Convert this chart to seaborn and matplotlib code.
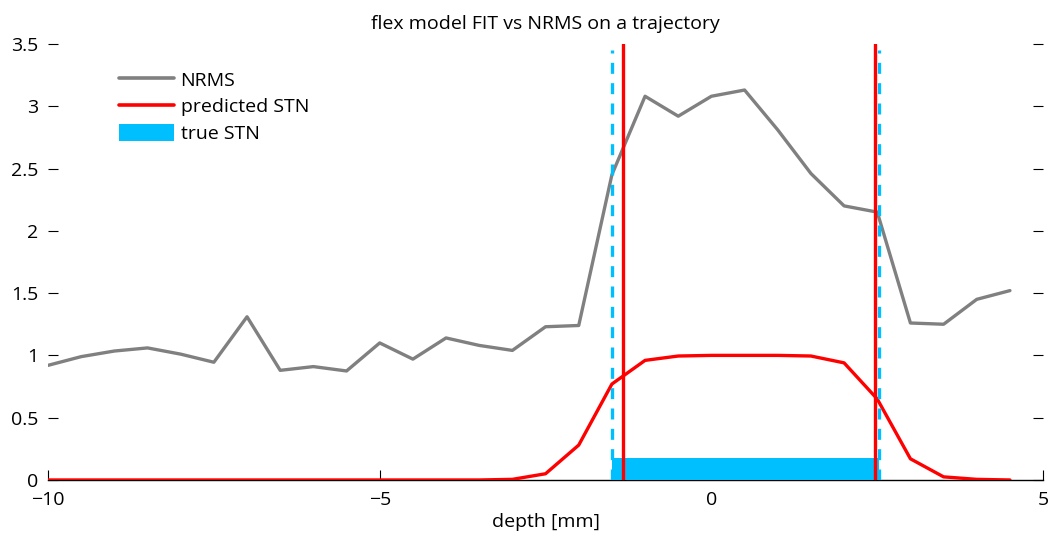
import numpy as np
import pandas as pd
import matplotlib
matplotlib.use("Agg")
import matplotlib.pyplot as plt
import seaborn as sns
from matplotlib.patches import Patch
from matplotlib.lines import Line2D

depth = [-10, -9.5, -9, -8.5, -8, -7.5, -7, -6.5, -6, -5.5, -5, -4.5, -4, -3.5,
         -3, -2.5, -2, -1.5, -1, -0.5, 0, 0.5, 1, 1.5, 2, 2.5, 3, 3.5, 4, 4.5]
nrms = [0.92, 0.99, 1.035, 1.06, 1.01, 0.945, 1.31, 0.88, 0.91, 0.875, 1.10, 0.97,
        1.14, 1.08, 1.04, 1.23, 1.24, 2.45, 3.08, 2.92, 3.08, 3.13, 2.81, 2.46,
        2.20, 2.15, 1.26, 1.25, 1.45, 1.52]
predicted = [0, 0, 0, 0, 0, 0, 0, 0, 0, 0, 0, 0, 0, 0,
             0.005, 0.05, 0.28, 0.77, 0.96, 0.995, 1.0, 1.0, 1.0, 0.995,
             0.94, 0.65, 0.17, 0.025, 0.005, 0.0]
pred_bounds = [-1.34, 2.47]
true_bounds = [-1.5, 2.52]
true_bar_height = 0.18

title = "flex model FIT vs NRMS on a trajectory"
xlabel = "depth [mm]"
legend_labels = ["NRMS", "predicted STN", "true STN"]
yticks = [0, 0.5, 1, 1.5, 2, 2.5, 3, 3.5]
xticks = [-10, -5, 0, 5]

sns.set_style("white")
plt.rcParams['font.family'] = ['Open Sans', 'DejaVu Sans']
plt.rcParams['font.size'] = 14
for k in ["text.color", "axes.labelcolor", "xtick.color", "ytick.color"]:
    plt.rcParams[k] = "black"

df = pd.DataFrame({"depth": depth, "nrms": nrms, "pred": predicted})

fig = plt.figure(figsize=(10.53, 5.41), dpi=100)
ax = fig.add_axes([0.0456, 0.1128, 0.945, 0.806])

GRAY = "#808080"
RED = "#ff0000"
CYAN = "#00bfff"

sns.lineplot(data=df, x="depth", y="nrms", ax=ax, color=GRAY, lw=2.4, zorder=3)
sns.lineplot(data=df, x="depth", y="pred", ax=ax, color=RED, lw=2.4, zorder=4)

ax.fill_between(true_bounds, 0, true_bar_height, color=CYAN, lw=0, zorder=2)
for xb in true_bounds:
    ax.axvline(xb, color=CYAN, lw=2.4, ls=(0, (3.3, 2.8)), zorder=5, ymin=0, ymax=0.985)
for xb in pred_bounds:
    ax.axvline(xb, color=RED, lw=2.4, zorder=6)

ax.set_xlim(-10, 5)
ax.set_ylim(0, 3.5)
ax.set_xticks(xticks)
ax.set_yticks(yticks)
ax.set_yticklabels([f"{v:g}" for v in yticks])
ax.set_xticklabels([f"{v:g}".replace("-", "\u2212") for v in xticks])

for s in ["top", "left", "right"]:
    ax.spines[s].set_visible(False)
ax.spines["bottom"].set_color("black")
ax.spines["bottom"].set_linewidth(1.0)
ax.spines["bottom"].set_zorder(1)

ax.tick_params(axis="y", direction="in", length=7, width=0.8, color="black",
               left=True, right=True, labelleft=True, pad=7, labelsize=14)
ax.tick_params(axis="x", direction="in", length=7, width=0.8, color="black",
               bottom=True, pad=8, labelsize=14)

ax.set_title(title, fontsize=14, pad=11)
ax.set_xlabel(xlabel, fontsize=14, labelpad=3)
ax.set_ylabel("")

handles = [Line2D([], [], color=GRAY, lw=2.6),
           Line2D([], [], color=RED, lw=2.6),
           Patch(facecolor=CYAN, edgecolor="none")]
ax.legend(handles, legend_labels, loc="upper left", bbox_to_anchor=(0.054, 0.98),
          frameon=False, handlelength=2.8, handleheight=1.0, handletextpad=0.35,
          labelspacing=0.38, fontsize=14)

fig.savefig("out.png", dpi=100)
